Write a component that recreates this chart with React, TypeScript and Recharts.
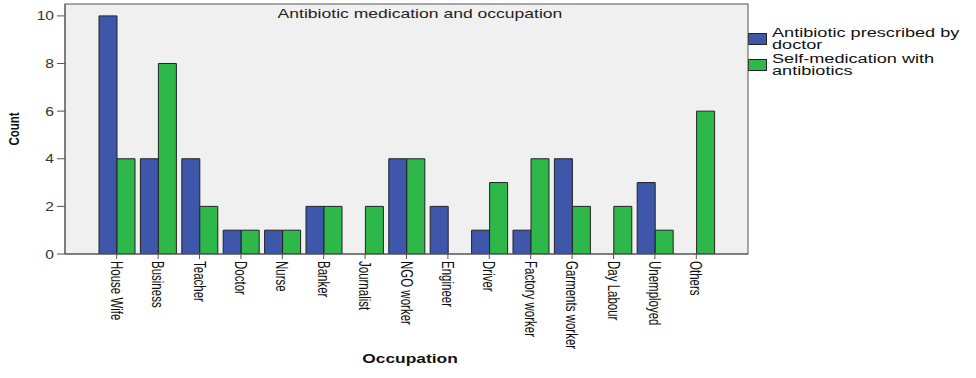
import React from "react"
import { Bar, BarChart, CartesianGrid, Legend, XAxis, YAxis } from "recharts"

const occupations = [
  "House Wife",
  "Business",
  "Teacher",
  "Doctor",
  "Nurse",
  "Banker",
  "Journalist",
  "NGO worker",
  "Engineer",
  "Driver",
  "Factory worker",
  "Garments worker",
  "Day Labour",
  "Unemployed",
  "Others",
]
const prescribed = [10, 4, 4, 1, 1, 2, 0, 4, 2, 1, 1, 4, 0, 3, 0]
const selfMedication = [4, 8, 2, 1, 1, 2, 2, 4, 0, 3, 4, 2, 2, 1, 6]
const yTicks = [0, 2, 4, 6, 8, 10]

const seriesNames = ["Antibiotic prescribed by doctor", "Self-medication with antibiotics"]
const BLUE = "#3e57ab"
const GREEN = "#2eb84a"
const AXIS = "#555"
const FONT = "'Liberation Sans', Arial, sans-serif"

const data = occupations.map((name, i) => ({
  name,
  prescribed: prescribed[i],
  self: selfMedication[i],
}))

function YTick(props: any) {
  const { x, y, payload } = props
  return (
    <text
      transform={`translate(${x},${y}) scale(1.2,1)`}
      textAnchor="end"
      dominantBaseline="central"
      fontFamily={FONT}
      fontSize={13}
      fill="#333"
    >
      {payload.value}
    </text>
  )
}

// rotated label, glyphs widened across (the source image is stretched sideways)
function XTick(props: any) {
  const { x, y, payload } = props
  return (
    <text
      transform={`translate(${x},${y}) rotate(90) scale(1,1.45)`}
      textAnchor="start"
      dominantBaseline="central"
      fontFamily={FONT}
      fontSize={11.5}
      fill="#111"
    >
      {payload.value}
    </text>
  )
}

function LegendBox(props: any) {
  const { payload } = props
  return (
    <div style={{ fontFamily: FONT, fontSize: 12.5, lineHeight: "12px", color: "#111" }}>
      {(payload || []).map((entry: any) => (
        <div key={entry.value} style={{ display: "flex", alignItems: "center", marginBottom: 2 }}>
          <div
            style={{
              width: 17,
              height: 10,
              background: entry.color,
              border: "1px solid #222",
              marginRight: 5,
              flexShrink: 0,
            }}
          />
          <div style={{ width: 135, transform: "scaleX(1.45)", transformOrigin: "left center" }}>
            {entry.value}
          </div>
        </div>
      ))}
    </div>
  )
}

export default function App() {
  return (
    <div style={{ position: "absolute", left: 0, top: 0, width: 976, height: 378, background: "#fff" }}>
      <BarChart
        width={976}
        height={378}
        data={data}
        margin={{ top: 4, right: 228, bottom: 0, left: 0 }}
        barCategoryGap={3}
        barGap={0}
      >
        <CartesianGrid horizontal={false} vertical={false} fill="#f0f0f0" />
        <XAxis
          dataKey="name"
          height={124}
          interval={0}
          padding={{ left: 31, right: 31 }}
          tickSize={5}
          tickMargin={2}
          tick={<XTick />}
          axisLine={{ stroke: AXIS }}
          tickLine={{ stroke: AXIS }}
        />
        <YAxis
          width={65}
          domain={[0, 10.5]}
          allowDataOverflow
          ticks={yTicks}
          tickSize={8}
          tickMargin={3}
          tick={<YTick />}
          axisLine={{ stroke: AXIS }}
          tickLine={{ stroke: AXIS }}
        />
        <Legend
          layout="vertical"
          align="center"
          verticalAlign="middle"
          content={<LegendBox />}
          wrapperStyle={{ position: "absolute", left: 748, top: 27, width: 228 }}
        />
        <Bar dataKey="prescribed" name={seriesNames[0]} fill={BLUE} stroke="#222" strokeWidth={1} isAnimationActive={false} />
        <Bar dataKey="self" name={seriesNames[1]} fill={GREEN} stroke="#222" strokeWidth={1} isAnimationActive={false} />
      </BarChart>
      <svg width={976} height={378} style={{ position: "absolute", left: 0, top: 0, pointerEvents: "none" }}>
        {/* frame around the plot area */}
        <rect x={65} y={4} width={683} height={250} fill="none" stroke={AXIS} strokeWidth={1} />
        <text
          transform="translate(420,18) scale(1.35,1)"
          textAnchor="middle"
          fontFamily={FONT}
          fontSize={13}
          fill="#222"
        >
          Antibiotic medication and occupation
        </text>
        <text
          transform="translate(19,129) rotate(-90) scale(1,1.3)"
          textAnchor="middle"
          fontFamily={FONT}
          fontWeight="bold"
          fontSize={11.5}
          fill="#111"
        >
          Count
        </text>
        <text
          transform="translate(410,363) scale(1.45,1)"
          textAnchor="middle"
          fontFamily={FONT}
          fontWeight="bold"
          fontSize={12}
          fill="#111"
        >
          Occupation
        </text>
      </svg>
    </div>
  )
}
